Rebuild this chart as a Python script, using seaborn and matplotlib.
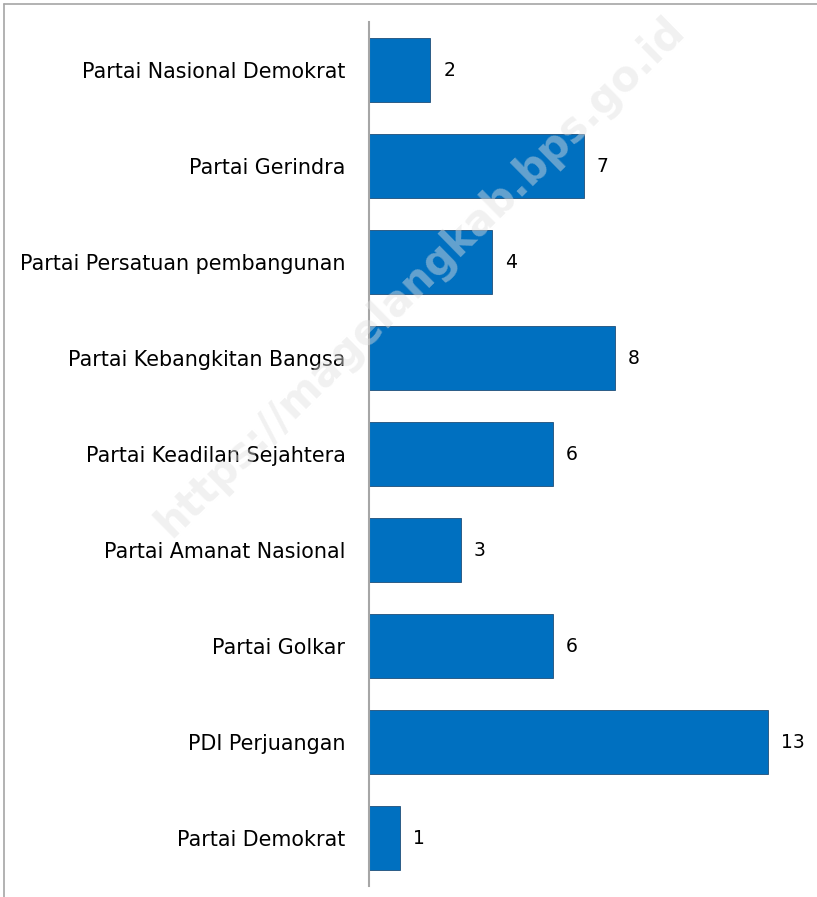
import matplotlib
matplotlib.use("Agg")
import matplotlib.pyplot as plt
import seaborn as sns
import pandas as pd
from matplotlib.lines import Line2D

parties = ["Partai Nasional Demokrat", "Partai Gerindra", "Partai Persatuan pembangunan",
           "Partai Kebangkitan Bangsa", "Partai Keadilan Sejahtera", "Partai Amanat Nasional",
           "Partai Golkar", "PDI Perjuangan", "Partai Demokrat"]
seats = [2, 7, 4, 8, 6, 3, 6, 13, 1]

df = pd.DataFrame({"party": parties, "seats": seats})

sns.set_theme(style="white")
plt.rcParams['font.family'] = ['DejaVu Sans']

fig = plt.figure(figsize=(8.17, 8.97), dpi=100)
ax = fig.add_axes([369/817, 1-886/897, (800-369)/817, (886-22)/897])

sns.barplot(data=df, x="seats", y="party", orient="h", ax=ax, color="#0070C0",
            saturation=1, width=0.667, edgecolor="#1f4e79", linewidth=0.6)

ax.set_xlim(0, 14.04)
ax.set_ylim(8.5, -0.5)
ax.set_xlabel("")
ax.set_ylabel("")
ax.set_xticks([])
for s in ["top", "right", "bottom"]:
    ax.spines[s].set_visible(False)
ax.spines["left"].set_color("#a6a6a6")
ax.spines["left"].set_linewidth(1.5)
ax.tick_params(axis="y", length=0, pad=17, labelsize=14.9, labelcolor="black")
for lbl in ax.get_yticklabels():
    lbl.set_y(lbl.get_position()[1])

for i, v in enumerate(seats):
    ax.text(v + 0.42, i, str(v), va="center", ha="left", fontsize=13.5, color="black")

# watermark
fig.text(420/817, 1-277/897, "https://magelangkab.bps.go.id", rotation=44.5,
         ha="center", va="center", fontsize=30, fontweight="bold",
         color="#e0e0e0", alpha=0.45, zorder=5)

# outer frame (top and left)
fig.add_artist(Line2D([4/817, 4/817], [0, 1-4/897], transform=fig.transFigure, color="#a6a6a6", lw=1.2))
fig.add_artist(Line2D([4/817, 1], [1-4/897, 1-4/897], transform=fig.transFigure, color="#a6a6a6", lw=1.2))

fig.savefig("out.png", dpi=100)
